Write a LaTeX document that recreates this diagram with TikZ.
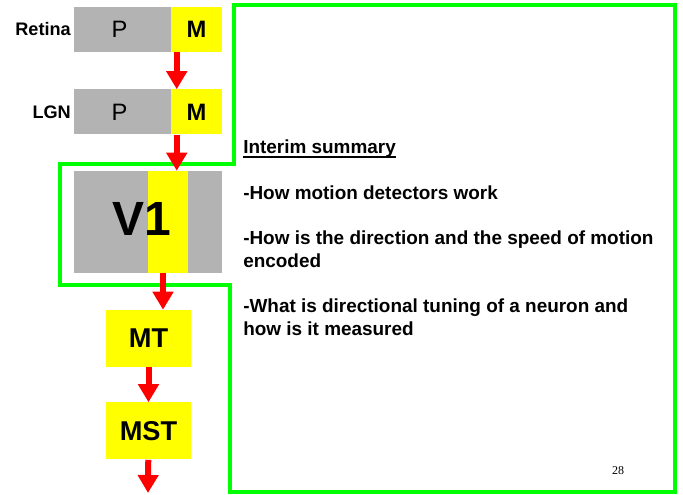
\documentclass[tikz,border=0pt]{standalone}
\usepackage{fontspec}
\setmainfont{Liberation Sans}
\newfontfamily\pagefont{Liberation Serif}
\usetikzlibrary{arrows.meta,calc}
\definecolor{boxgray}{RGB}{179,179,179}
\definecolor{boxyellow}{RGB}{255,255,0}
\definecolor{framegreen}{RGB}{0,255,0}
\tikzset{
  pbox/.style={fill=boxgray, inner sep=0, minimum width=72.75pt, minimum height=33.75pt, font=\fontsize{17.8}{20}\selectfont},
  mbox/.style={fill=boxyellow, inner sep=0, minimum width=38.25pt, minimum height=33.75pt, font=\bfseries\fontsize{17.8}{20}\selectfont},
  areabox/.style={fill=boxyellow, inner sep=0, minimum width=63.75pt, minimum height=42.75pt, font=\bfseries\fontsize{20.4}{24}\selectfont},
  stagelabel/.style={anchor=east, inner sep=2pt, font=\bfseries\fontsize{13.6}{16}\selectfont},
  flow/.style={draw=red, line width=4.5pt, -{Triangle[width=15pt,length=13.5pt]}},
  summary/.style={anchor=base west, inner sep=0, align=left, font=\bfseries\fontsize{14.2}{17.25}\selectfont},
}
\begin{document}
\begin{tikzpicture}[x=0.75pt,y=-0.75pt]
\useasboundingbox (0,0) rectangle (683,495);
% green frame
\draw[framegreen, line width=3pt] (234,5) -- (675,5) -- (675,492) -- (230,492) -- (230,285) -- (60,285) -- (60,164) -- (234,164) -- cycle;
% retina and LGN
\node[pbox] (retP) at (122.5,29.5) {\hspace{-4.5pt}P};
\node[mbox] (retM) at (196.5,29.5) {M};
\node[stagelabel] (retina) at (retP.west) {Retina};
\node[pbox] (lgnP) at (122.5,112) {\hspace{-4.5pt}P};
\node[mbox] (lgnM) at (196.5,112) {M};
\node[stagelabel] (lgn) at (lgnP.west) {LGN};
% V1
\node[fill=boxgray, inner sep=0, minimum width=111pt, minimum height=76.5pt] (v1) at (148,222) {};
\node[fill=boxyellow, inner sep=0, minimum width=30pt, minimum height=76.5pt] (v1M) at (168,222) {};
\node[font=\bfseries\fontsize{36}{40}\selectfont] (v1label) at (142,219) {V1};
% MT and MST
\node[areabox] (mt) at (148.5,338.5) {MT};
\node[areabox] (mst) at (148.5,431) {MST};
\coordinate (out) at (148,493);
% arrows
\coordinate (a1) at ($(retM.south west)+(6,0)$);
\draw[flow] (a1) -- (a1 |- lgnM.north);
\coordinate (a2) at ($(lgnM.south west)+(6,0)$);
\draw[flow] (a2) -- (a2 |- v1.north);
\coordinate (a3) at ($(v1M.south)+(-5,0)$);
\draw[flow] (a3) -- (a3 |- mt.north);
\draw[flow] (mt) -- (mst);
\draw[flow] (mst) -- (out);
% summary text
\node[summary] (head) at (243,154) {Interim summary};
\draw[line width=1pt] ([yshift=-2.25pt]head.base west) -- ([yshift=-2.25pt]head.base east);
\node[summary] (item1) at (243,200) {-How motion detectors work};
\node[summary] (item2) at (243,268) {-How is the direction and the speed of motion\\encoded};
\node[summary] (item3) at (243,336) {-What is directional tuning of a neuron and\\how is it measured};
\node[font=\pagefont\fontsize{9}{10}\selectfont] (pagenum) at (618,471) {28};
\end{tikzpicture}
\end{document}
